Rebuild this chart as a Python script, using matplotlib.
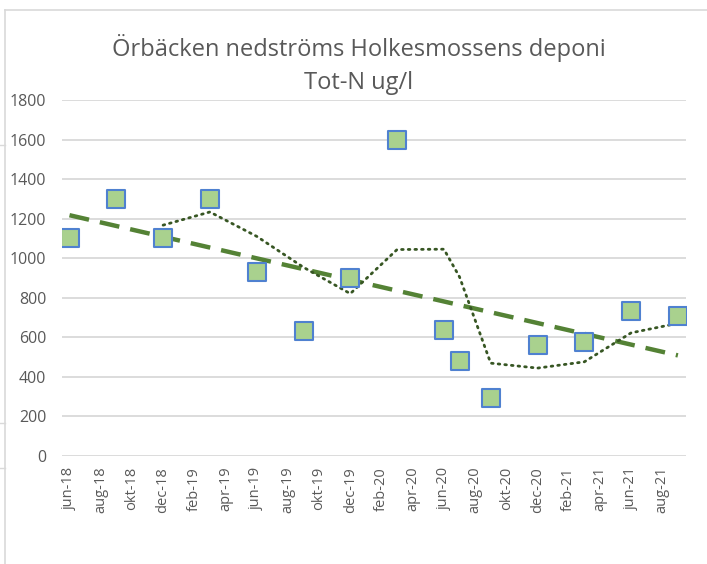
import matplotlib.pyplot as plt
import numpy as np
from matplotlib.lines import Line2D

# Monthly categories from jun-18 to sep-21 (date axis, base unit = month)
months = ["jan", "feb", "mar", "apr", "maj", "jun", "jul", "aug", "sep", "okt", "nov", "dec"]
start_year, start_month = 2018, 6
n_months = 40

# Sampled months (index from jun-18) and Tot-N values (ug/l)
sample_idx = [0, 3, 6, 9, 12, 15, 18, 21, 24, 25, 27, 30, 33, 36, 39]
tot_n = [1100, 1300, 1100, 1300, 930, 630, 900, 1600, 635, 480, 290, 560, 575, 730, 705]

x = np.array(sample_idx, dtype=float)
y = np.array(tot_n, dtype=float)

# Linear trendline
slope, intercept = np.polyfit(x, y, 1)
trend_x = np.array([x[0], x[-1]])
trend_y = slope * trend_x + intercept

# Moving average, period 3
ma = np.convolve(y, np.ones(3) / 3, mode="valid")
ma_x = x[2:]

fig = plt.figure(figsize=(7.07, 5.64), dpi=100)
ax = fig.add_axes([61.7 / 707, 1 - 455.7 / 564, 624 / 707, 355.7 / 564])

grid_c = "#d9d9d9"
text_c = "#595959"
for v in range(0, 1801, 200):
    ax.axhline(v, color=grid_c, lw=1.3, zorder=0)

ax.plot(trend_x, trend_y, color="#548235", lw=3.2, ls=(0, (4.5, 2.5)), zorder=2)
ax.plot(ma_x, ma, color="#375623", lw=2, ls=(0, (0.6, 1.8)), zorder=2,
        dash_capstyle="round")
ax.scatter(x, y, marker="s", s=160, facecolor="#a9d18e", edgecolor="#4f81d0",
           linewidths=1.5, zorder=3)

ax.set_xlim(-0.5, n_months - 0.5)
ax.set_ylim(0, 1800)
tick_pos = list(range(0, n_months, 2))
tick_lbl = []
for i in tick_pos:
    m = (start_month - 1 + i) % 12
    yr = start_year + (start_month - 1 + i) // 12
    tick_lbl.append(f"{months[m]}-{yr % 100:02d}")
ax.set_xticks(tick_pos)
ax.set_xticklabels(tick_lbl, rotation=90, fontsize=10.5, color=text_c,
                   family="Open Sans")
ax.set_yticks(range(0, 1801, 200))
ax.set_yticklabels([str(v) for v in range(0, 1801, 200)], fontsize=11.5,
                   color=text_c, family="Open Sans")
ax.tick_params(axis="both", length=0)
ax.tick_params(axis="y", pad=11)
ax.tick_params(axis="x", pad=8)
for s in ax.spines.values():
    s.set_visible(False)

fig.text(359 / 707, 1 - 48 / 564, "Örbäcken nedströms Holkesmossens deponi",
         ha="center", va="center", fontsize=17, color=text_c, family="Open Sans")
fig.text(359 / 707, 1 - 83 / 564, "Tot-N ug/l",
         ha="center", va="center", fontsize=17, color=text_c, family="Open Sans")

# Chart border (cropped screenshot)
border_c = "#d9d9d9"
fig.add_artist(Line2D([5 / 707, 5 / 707], [0, 1 - 10 / 564], color=border_c, lw=1.2))
fig.add_artist(Line2D([5 / 707, 1], [1 - 10 / 564, 1 - 10 / 564], color=border_c, lw=1.2))
for yy in [145, 423, 468]:
    fig.add_artist(Line2D([0, 5 / 707], [1 - yy / 564, 1 - yy / 564], color=border_c, lw=1))

fig.savefig("out.png", dpi=100, facecolor="white")
